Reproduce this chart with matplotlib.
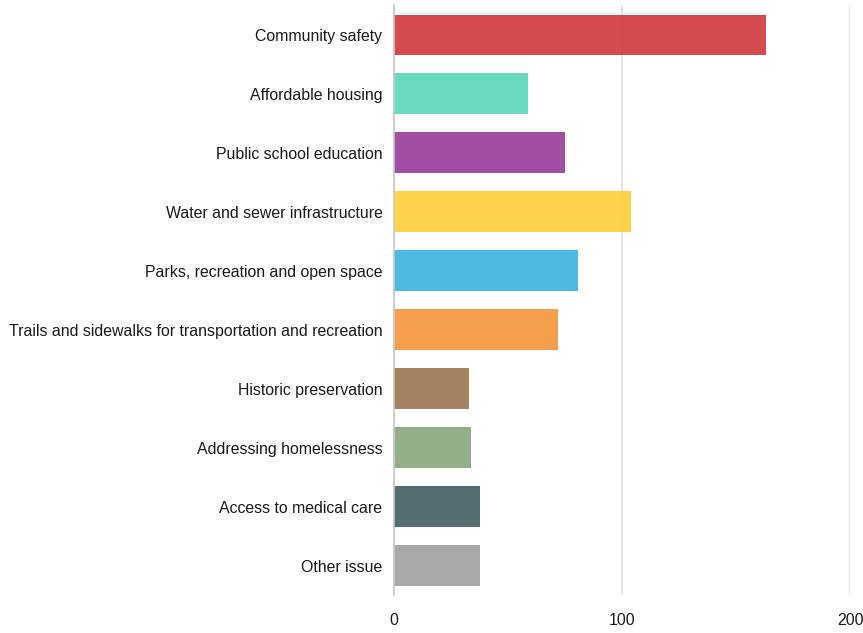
import matplotlib.pyplot as plt
import numpy as np

issues = [
    "Community safety",
    "Affordable housing",
    "Public school education",
    "Water and sewer infrastructure",
    "Parks, recreation and open space",
    "Trails and sidewalks for transportation and recreation",
    "Historic preservation",
    "Addressing homelessness",
    "Access to medical care",
    "Other issue",
]
votes = [163, 59, 75, 104, 81, 72, 33, 34, 38, 38]
colors = ["#D13739", "#59D5BA", "#993A99", "#FDCF38", "#3BB2DF",
          "#F4953B", "#997451", "#87A67C", "#415E63", "#9F9F9F"]

plt.rcParams["font.family"] = ["Liberation Sans", "DejaVu Sans"]

fig = plt.figure(figsize=(8.63, 6.33), dpi=100)
ax = fig.add_axes([0.456, 0.06, 0.529, 0.932])

y = np.arange(len(issues))
ax.barh(y, votes, height=0.68, color=colors, alpha=0.9, zorder=2)

ax.set_xlim(0, 200)
ax.set_ylim(len(issues) - 0.5, -0.5)
ax.set_xticks([0, 100, 200])
ax.set_yticks(y)
ax.set_yticklabels(issues)

# light vertical gridlines behind the bars
ax.grid(axis="x", color="#e3e3e3", linewidth=1.3, zorder=0)
ax.set_axisbelow(True)

for side in ["top", "right", "bottom"]:
    ax.spines[side].set_visible(False)
ax.spines["left"].set_color("#c8c8c8")
ax.spines["left"].set_linewidth(1.2)

ax.tick_params(axis="y", length=0, pad=8, labelsize=11.4, labelcolor="#1a1a1a")
ax.tick_params(axis="x", length=0, pad=13, labelsize=11.4, labelcolor="#1a1a1a")

fig.savefig("out.png", dpi=100)
